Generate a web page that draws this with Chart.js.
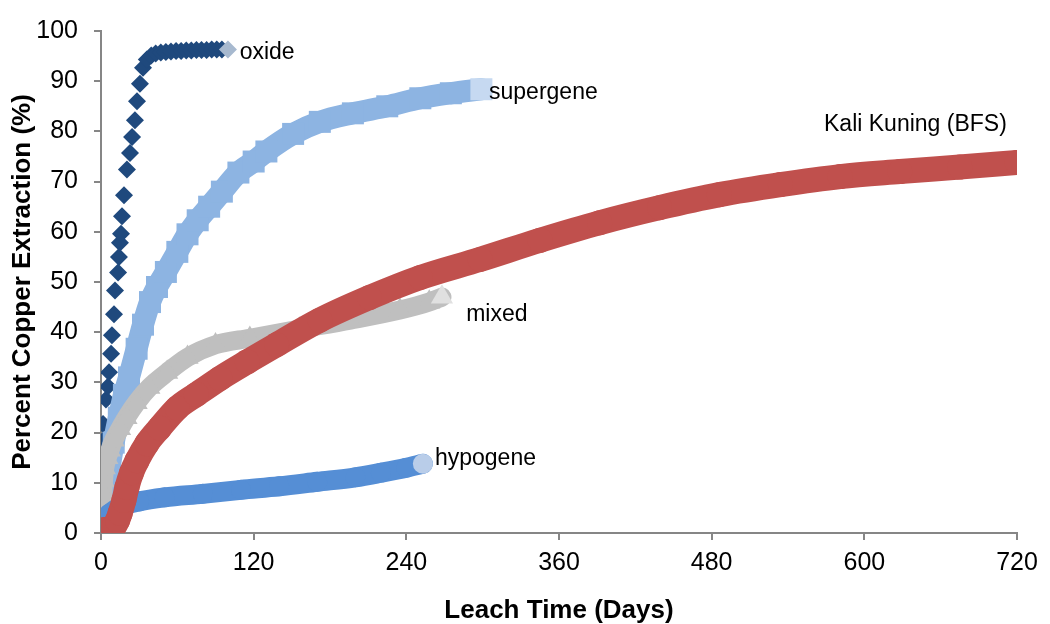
<!DOCTYPE html>
<html>
<head>
<meta charset="utf-8">
<script src="https://cdn.jsdelivr.net/npm/chart.js@4"></script>
<style>
  html, body { margin: 0; padding: 0; background: #fff; }
</style>
</head>
<body>
<canvas id="chart" width="1050" height="624"></canvas>
<script>
// values
const oxideDays = [0, 0.2, 0.3, 0.5, 0.6, 0.8, 1.2, 1.6, 3.9, 5.5, 6.3, 7.9, 8.6, 10.2, 11.0, 13.4, 14.1, 14.9, 15.7, 16.5, 18.1, 20.4, 22.8, 24.4, 26.7, 28.3, 30.6, 33.0, 36.0, 39.5, 43, 47, 51, 55, 59, 63, 67, 71, 75, 79, 83, 87, 91, 95, 99.8];
const oxideValues = [0, 3, 6, 9, 12, 15.6, 18.3, 21.7, 26.6, 29.2, 32.0, 35.7, 39.4, 43.6, 48.3, 51.9, 55.0, 57.8, 59.6, 63.1, 67.3, 72.4, 75.7, 78.9, 82.2, 86.0, 89.5, 92.7, 94.3, 95.1, 95.5, 95.7, 95.8, 95.9, 96.0, 96.0, 96.1, 96.1, 96.2, 96.2, 96.2, 96.3, 96.3, 96.3, 96.3];

const supergeneDays = [0, 1, 2.4, 4, 5.5, 7, 10, 14, 18, 22, 28, 33, 38.5, 44, 51, 60, 68, 76, 85, 95, 108, 120, 130, 151, 172, 198, 225, 251, 275, 299];
const supergeneValues = [1, 3, 5.5, 8.5, 11, 13.5, 18, 23, 27.5, 31, 36.7, 41.5, 46, 49, 52, 56, 59.5, 62.3, 65, 68, 71.8, 74, 76, 79.5, 81.9, 83.6, 85.0, 86.6, 87.6, 88.4];

const mixedDays = [0, 0.5, 1, 1.5, 2, 3, 5, 7, 10, 15, 20, 28, 38, 52, 68, 90, 117, 156, 196, 235, 258, 268];
const mixedValues = [0, 3, 5.5, 8, 10.5, 13, 15, 16.5, 18.5, 20.8, 23, 26, 29, 32, 35, 37.5, 38.8, 40.6, 42.4, 44.4, 46, 47];

const hypogeneDays = [0, 1, 3, 7, 15, 30, 50, 80, 110, 140, 170, 200, 220, 240, 253];
const hypogeneValues = [0, 1.5, 2.8, 3.9, 5.2, 6.3, 7.1, 7.8, 8.6, 9.3, 10.2, 11.1, 12, 13, 13.8];

const kaliDays = [0, 2, 6, 10, 13, 15, 18, 20.4, 24, 28.3, 36, 46, 60, 75, 93.5, 115, 138, 172, 211, 251, 298, 345, 392, 439, 486, 534, 581, 628, 675, 720];
const kaliValues = [0, 0.6, 0.8, 1.2, 2.5, 3.9, 6.5, 9.1, 12, 14.4, 17.8, 20.9, 24.9, 27.6, 30.8, 34.1, 37.5, 42.4, 46.9, 50.9, 54.5, 58.3, 61.8, 64.8, 67.4, 69.4, 71, 72, 72.9, 73.8];

const xTicks = [0, 120, 240, 360, 480, 600, 720];
const yTicks = [0, 10, 20, 30, 40, 50, 60, 70, 80, 90, 100];

const seriesLabels = ['oxide', 'supergene', 'mixed', 'hypogene', 'Kali Kuning (BFS)'];
const labelDays = [109, 305, 287, 262.5, 712];
const labelValues = [95.6, 87.8, 43.5, 14.8, 81.3];

const FONT = '"Liberation Sans", Arial, sans-serif';
Chart.defaults.font.family = FONT;
Chart.defaults.color = '#000';

function pts(days, vals) {
  return days.map((d, i) => ({ x: d, y: vals[i] }));
}
// last marker of each series is drawn in a lighter shade
function shades(n, main, last) {
  const c = new Array(n).fill(main);
  c[n - 1] = last;
  return c;
}

const labelPlugin = {
  id: 'seriesLabels',
  afterDatasetsDraw(chart) {
    const { ctx, scales: { x, y } } = chart;
    ctx.save();
    ctx.font = '23px ' + FONT;
    ctx.fillStyle = '#000';
    ctx.textBaseline = 'middle';
    seriesLabels.forEach((t, i) => {
      ctx.textAlign = i === 4 ? 'right' : 'left';
      ctx.fillText(t, x.getPixelForValue(labelDays[i]), y.getPixelForValue(labelValues[i]));
    });
    ctx.restore();
  }
};

const lineSeries = (label, days, vals, col, light, style, r, order) => ({
  label,
  data: pts(days, vals),
  showLine: true,
  borderColor: col,
  borderWidth: r * 2,
  borderCapStyle: 'round',
  borderJoinStyle: 'round',
  cubicInterpolationMode: 'monotone',
  pointStyle: style,
  pointRadius: style === 'rect' ? r * 1.414 : style === 'triangle' ? r * 1.35 : r,
  pointBackgroundColor: shades(days.length, col, light),
  pointBorderColor: shades(days.length, col, light),
  pointBorderWidth: 0,
  order
});

new Chart(document.getElementById('chart'), {
  type: 'scatter',
  data: {
    datasets: [
      {
        label: 'oxide',
        data: pts(oxideDays, oxideValues),
        showLine: false,
        pointStyle: 'rectRot',
        pointRadius: 9,
        pointBackgroundColor: shades(oxideDays.length, '#1F497D', '#A7B9CF'),
        pointBorderColor: shades(oxideDays.length, '#1F497D', '#A7B9CF'),
        pointBorderWidth: 0,
        order: 5
      },
      lineSeries('supergene', supergeneDays, supergeneValues, '#8DB4E2', '#C6D9F1', 'rect', 11, 4),
      lineSeries('mixed', mixedDays, mixedValues, '#BFBFBF', '#E0E0E0', 'triangle', 9.5, 3),
      lineSeries('hypogene', hypogeneDays, hypogeneValues, '#558ED5', '#B9CDE9', 'circle', 10, 2),
      lineSeries('Kali Kuning (BFS)', kaliDays, kaliValues, '#C0504D', '#C0504D', 'circle', 12.5, 1)
    ]
  },
  options: {
    responsive: false,
    animation: false,
    layout: { padding: { top: 25, right: 33, left: 0, bottom: 0 } },
    plugins: {
      legend: { display: false },
      tooltip: { enabled: false }
    },
    scales: {
      x: {
        type: 'linear',
        min: 0,
        max: 720,
        afterBuildTicks: s => { s.ticks = xTicks.map(v => ({ value: v })); },
        afterFit: s => { s.height = 91; },
        ticks: { font: { size: 25 }, color: '#000', padding: 8, maxRotation: 0 },
        grid: { drawOnChartArea: false, tickLength: 7, color: '#868686', lineWidth: 2 },
        border: { color: '#868686', width: 2 },
        title: {
          display: true,
          text: 'Leach Time (Days)',
          font: { size: 26, weight: 'bold', lineHeight: 1 },
          color: '#000',
          padding: { top: 0, bottom: 0 }
        }
      },
      y: {
        min: 0,
        max: 100,
        afterBuildTicks: s => { s.ticks = yTicks.map(v => ({ value: v })); },
        afterFit: s => { s.width = 101; },
        ticks: { font: { size: 25 }, color: '#000', padding: 16 },
        grid: { drawOnChartArea: false, tickLength: 7, color: '#868686', lineWidth: 2 },
        border: { color: '#868686', width: 2 },
        title: {
          display: true,
          text: 'Percent Copper Extraction (%)',
          font: { size: 26, weight: 'bold', lineHeight: 1 },
          color: '#000',
          padding: { top: 10, bottom: 0 }
        }
      }
    }
  },
  plugins: [labelPlugin]
});
</script>
</body>
</html>
